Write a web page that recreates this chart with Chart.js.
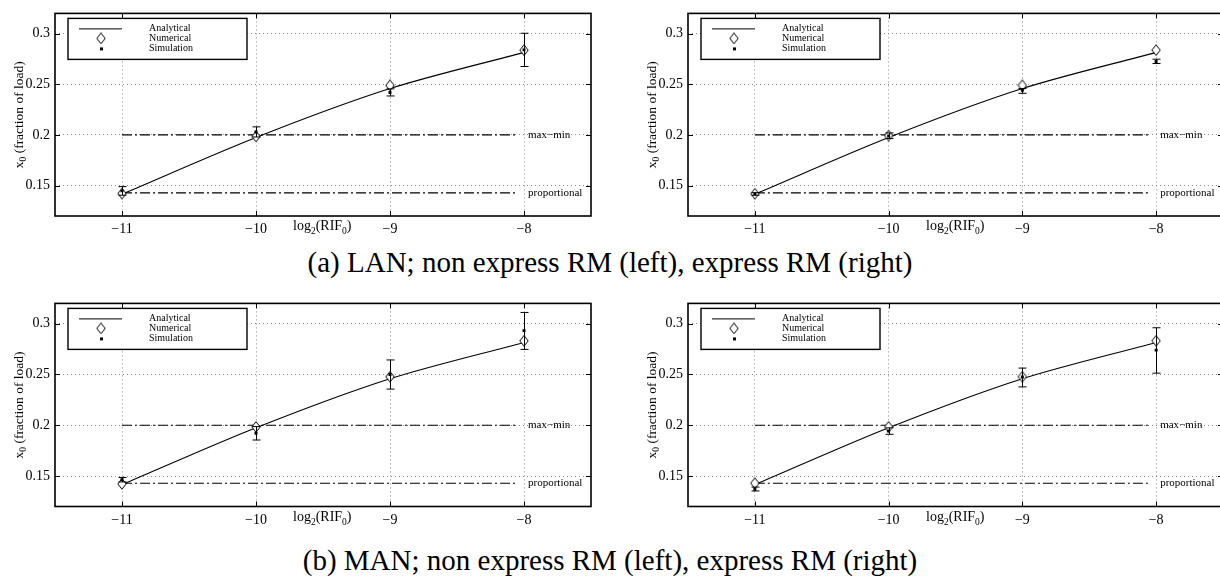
<!DOCTYPE html>
<html>
<head>
<meta charset="utf-8">
<script src="https://cdn.jsdelivr.net/npm/chart.js@4.4.0/dist/chart.umd.min.js"></script>
<style>
html, body { margin:0; padding:0; background:#fff; width:1220px; height:576px; overflow:hidden; position:relative; }
.panel { position:absolute; }
.caption { position:absolute; left:0; width:1220px; text-align:center; font-family:"Liberation Serif","Times New Roman",serif; font-size:29px; color:#000; line-height:30px; }
</style>
</head>
<body>
<div class="panel" style="left:0px;top:0px;"><canvas id="c0" width="610" height="245"></canvas></div>
<div class="panel" style="left:610px;top:0px;"><canvas id="c1" width="620" height="245"></canvas></div>
<div class="caption" id="capA" style="top:247px;"></div>
<div class="panel" style="left:0px;top:290px;"><canvas id="c2" width="610" height="245"></canvas></div>
<div class="panel" style="left:610px;top:290px;"><canvas id="c3" width="620" height="245"></canvas></div>
<div class="caption" id="capB" style="top:545px;"></div>
<script>
// ---------------- data ----------------
const xValues = [-11, -10, -9, -8];
const xTickLabels = ['\u221211', '\u221210', '\u22129', '\u22128'];
const yTickValues = [0.15, 0.2, 0.25, 0.3];
const yTickLabels = ['0.15', '0.2', '0.25', '0.3'];
const legendLabels = ['Analytical', 'Numerical', 'Simulation'];
const captions = ['(a) LAN; non express RM (left), express RM (right)',
                  '(b) MAN; non express RM (left), express RM (right)'];
const yTitleMain = 'x';
const yTitleSub = '0';
const yTitleRest = ' (fraction of load)';
const refLabels = ['max\u2212min', 'proportional'];

const analytical = [0.1415, 0.1975, 0.2458, 0.2815];

const numericalLanNonExpress = [0.1422, 0.1985, 0.2490, 0.2837];
const numericalLanExpress    = [0.1420, 0.1994, 0.2490, 0.2838];
const numericalManNonExpress = [0.1423, 0.1984, 0.2478, 0.2832];
const numericalManExpress    = [0.1429, 0.1984, 0.2478, 0.2832];

const simLanNonExpress   = [0.1448, 0.2030, 0.2420, 0.2840];
const simLoLanNonExpress = [0.1405, 0.1980, 0.2385, 0.2676];
const simHiLanNonExpress = [0.1490, 0.2080, 0.2455, 0.3004];

const simLanExpress   = [0.1418, 0.1990, 0.2442, 0.2726];
const simLoLanExpress = [0.1405, 0.1965, 0.2411, 0.2705];
const simHiLanExpress = [0.1430, 0.2020, 0.2458, 0.2748];

const simManNonExpress   = [0.1464, 0.1921, 0.2500, 0.2932];
const simLoManNonExpress = [0.1442, 0.1855, 0.2356, 0.2747];
const simHiManNonExpress = [0.1486, 0.1987, 0.2643, 0.3111];

const simManExpress   = [0.1370, 0.1943, 0.2475, 0.2740];
const simLoManExpress = [0.1353, 0.1911, 0.2378, 0.2513];
const simHiManExpress = [0.1391, 0.1975, 0.2563, 0.2960];

const maxMinLevel = 0.2;
const proportionalLevel = 0.1429;
const refLineX = [-11, -8.05];
const refLabelX = -7.97;
const xRange = [-11.5, -7.5];
const yRange = [0.12, 0.32];

// ---------------- layout (positions only) ----------------
const panels = [
  { id:'c0', num: numericalLanNonExpress, sim: simLanNonExpress, lo: simLoLanNonExpress, hi: simHiLanNonExpress, W:610, H:245, left:55, right:591, top:5, bottom:216 },
  { id:'c1', num: numericalLanExpress, sim: simLanExpress, lo: simLoLanExpress, hi: simHiLanExpress, W:620, H:245, left:78, right:613.6, top:5, bottom:216 },
  { id:'c2', num: numericalManNonExpress, sim: simManNonExpress, lo: simLoManNonExpress, hi: simHiManNonExpress, W:610, H:245, left:55, right:591, top:5.5, bottom:216.5 },
  { id:'c3', num: numericalManExpress, sim: simManExpress, lo: simLoManExpress, hi: simHiManExpress, W:620, H:245, left:78, right:613.6, top:5.5, bottom:216.5 }
];

const FONT = '"Liberation Serif", "Times New Roman", serif';

function makeDiamond() {
  const c = document.createElement('canvas');
  c.width = 10; c.height = 12;
  const g = c.getContext('2d');
  g.beginPath();
  g.moveTo(5, 0.7); g.lineTo(9.2, 6); g.lineTo(5, 11.3); g.lineTo(0.8, 6); g.closePath();
  g.fillStyle = '#fff'; g.fill();
  g.strokeStyle = '#000'; g.lineWidth = 1; g.stroke();
  return c;
}
const diamondImg = makeDiamond();

const decor = {
  id: 'decor',
  afterDatasetsDraw(chart) {
    const { ctx } = chart;
    const x = chart.scales.x, y = chart.scales.y;
    chart.data.datasets.forEach(ds => {
      if (!ds.errorLow) return;
      ctx.save();
      ctx.strokeStyle = '#000';
      ctx.lineWidth = 1;
      ds.data.forEach((pt, i) => {
        const px = Math.round(x.getPixelForValue(pt.x)) + 0.5;
        const lo = y.getPixelForValue(ds.errorLow[i]);
        const hi = y.getPixelForValue(ds.errorHigh[i]);
        ctx.beginPath();
        ctx.moveTo(px, lo); ctx.lineTo(px, hi);
        ctx.moveTo(px - 4, lo); ctx.lineTo(px + 4, lo);
        ctx.moveTo(px - 4, hi); ctx.lineTo(px + 4, hi);
        ctx.stroke();
      });
      ctx.restore();
    });
  },
  afterDraw(chart) {
    const { ctx, chartArea: a } = chart;
    const x = chart.scales.x, y = chart.scales.y;
    ctx.save();
    // reference labels
    ctx.fillStyle = '#000';
    ctx.font = '11px ' + FONT;
    ctx.textBaseline = 'middle';
    ctx.textAlign = 'left';
    ctx.fillText(refLabels[0], x.getPixelForValue(refLabelX), y.getPixelForValue(maxMinLevel));
    ctx.fillText(refLabels[1], x.getPixelForValue(refLabelX), y.getPixelForValue(proportionalLevel));
    // inward tick marks on all four sides
    ctx.strokeStyle = '#000';
    ctx.lineWidth = 1;
    ctx.beginPath();
    xValues.forEach(v => {
      const px = Math.round(x.getPixelForValue(v)) + 0.5;
      ctx.moveTo(px, a.bottom); ctx.lineTo(px, a.bottom - 5);
      ctx.moveTo(px, a.top); ctx.lineTo(px, a.top + 5);
    });
    yTickValues.forEach(v => {
      const py = Math.round(y.getPixelForValue(v)) + 0.5;
      ctx.moveTo(a.left, py); ctx.lineTo(a.left + 5, py);
      ctx.moveTo(a.right, py); ctx.lineTo(a.right - 5, py);
    });
    ctx.stroke();
    // box
    ctx.lineWidth = 1.6;
    ctx.strokeRect(a.left, a.top, a.right - a.left, a.bottom - a.top);
    // legend
    const lx = a.left + 13, ly = a.top + 5;
    ctx.fillStyle = '#fff';
    ctx.fillRect(lx, ly, 179, 41);
    ctx.lineWidth = 1.4;
    ctx.strokeStyle = '#000';
    ctx.strokeRect(lx, ly, 179, 41);
    ctx.lineWidth = 1;
    ctx.beginPath();
    ctx.moveTo(a.left + 24, ly + 10.5); ctx.lineTo(a.left + 67, ly + 10.5);
    ctx.stroke();
    ctx.drawImage(diamondImg, a.left + 46 - 5, ly + 20 - 6);
    ctx.fillStyle = '#000';
    ctx.fillRect(a.left + 45, ly + 29, 3, 3);
    ctx.font = '10px ' + FONT;
    ctx.textBaseline = 'middle';
    legendLabels.forEach((t, i) => ctx.fillText(t, a.left + 94, ly + 10 + i * 10));
    // x axis title: log2(RIF0)
    ctx.textBaseline = 'alphabetic';
    let tx = a.left + 238;
    const base = a.bottom + 14;
    const parts = [['log', 0, 14], ['2', 4, 9.5], ['(RIF', 0, 14], ['0', 4, 9.5], [')', 0, 14]];
    parts.forEach(([t, dy, fs]) => {
      ctx.font = fs + 'px ' + FONT;
      ctx.fillText(t, tx, base + dy);
      tx += ctx.measureText(t).width;
    });
    // y axis title
    ctx.translate(a.left - 36, (a.top + a.bottom) / 2);
    ctx.rotate(-Math.PI / 2);
    ctx.font = '13.5px ' + FONT;
    const w1 = ctx.measureText(yTitleMain).width;
    const w3 = ctx.measureText(yTitleRest).width;
    ctx.font = '9.5px ' + FONT;
    const w2 = ctx.measureText(yTitleSub).width;
    let sx = -(w1 + w2 + w3) / 2;
    ctx.textBaseline = 'middle';
    ctx.font = '13.5px ' + FONT;
    ctx.fillText(yTitleMain, sx, 0); sx += w1;
    ctx.font = '9.5px ' + FONT;
    ctx.fillText(yTitleSub, sx, 4); sx += w2;
    ctx.font = '13.5px ' + FONT;
    ctx.fillText(yTitleRest, sx, 0);
    ctx.restore();
  }
};

function buildChart(p) {
  const ctx = document.getElementById(p.id).getContext('2d');
  const pts = arr => xValues.map((xv, i) => ({ x: xv, y: arr[i] }));
  return new Chart(ctx, {
    type: 'scatter',
    data: {
      datasets: [
        { label: legendLabels[0], data: pts(analytical), showLine: true, borderColor: '#000', borderWidth: 1.1,
          pointRadius: 0, tension: 0.3, fill: false, order: 5 },
        { label: refLabels[0], data: refLineX.map(v => ({ x: v, y: maxMinLevel })), showLine: true, borderColor: '#000',
          borderWidth: 1.2, borderDash: [10, 3, 2, 3], pointRadius: 0, order: 6 },
        { label: refLabels[1], data: refLineX.map(v => ({ x: v, y: proportionalLevel })), showLine: true, borderColor: '#000',
          borderWidth: 1.2, borderDash: [10, 3, 2, 3], pointRadius: 0, order: 6 },
        { label: legendLabels[1], data: pts(p.num), pointStyle: diamondImg, pointRadius: 6, order: 2 },
        { label: legendLabels[2], data: pts(p.sim), pointStyle: 'rect', pointRadius: 2.1, backgroundColor: '#000',
          borderColor: '#000', borderWidth: 0, order: 1, errorLow: p.lo, errorHigh: p.hi }
      ]
    },
    options: {
      responsive: false,
      animation: false,
      events: [],
      layout: { padding: { left: 0, top: p.top, right: p.W - p.right, bottom: 0 } },
      plugins: { legend: { display: false }, tooltip: { enabled: false } },
      scales: {
        x: {
          type: 'linear', min: xRange[0], max: xRange[1],
          afterBuildTicks: s => { s.ticks = xValues.map(v => ({ value: v })); },
          afterFit: s => { s.height = p.H - p.bottom; },
          ticks: { callback: (v, i) => xTickLabels[i], font: { family: FONT, size: 14 }, color: '#000', padding: 5,
                   maxRotation: 0, autoSkip: false },
          grid: { color: '#8c8c8c', lineWidth: 1, drawTicks: false },
          border: { display: false, dash: [1, 3] }
        },
        y: {
          type: 'linear', min: yRange[0], max: yRange[1],
          afterBuildTicks: s => { s.ticks = yTickValues.map(v => ({ value: v })); },
          afterFit: s => { s.width = p.left; },
          ticks: { callback: (v, i) => yTickLabels[i], font: { family: FONT, size: 14 }, color: '#000', padding: 5 },
          grid: { color: '#8c8c8c', lineWidth: 1, drawTicks: false },
          border: { display: false, dash: [1, 3] }
        }
      }
    },
    plugins: [decor]
  });
}

panels.forEach(buildChart);
document.getElementById('capA').textContent = captions[0];
document.getElementById('capB').textContent = captions[1];
</script>
</body>
</html>
